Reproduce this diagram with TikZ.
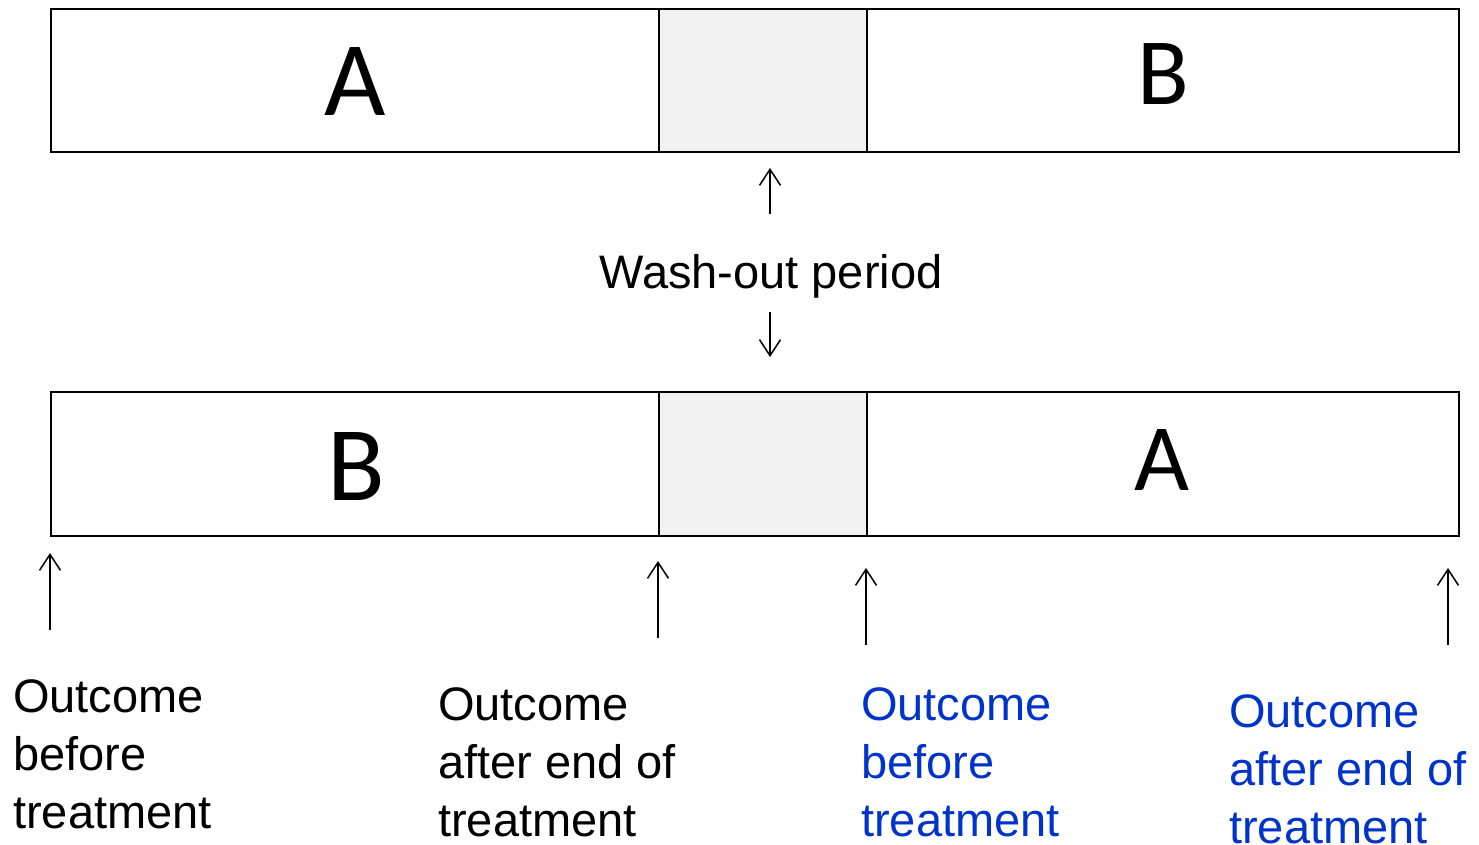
\documentclass[tikz,border=0pt]{standalone}
\usepackage{fontspec}
\setmainfont{Liberation Sans}
\newfontfamily\calib{Carlito}
\usetikzlibrary{arrows.meta}
\definecolor{outblue}{RGB}{0,51,204}
\definecolor{washgray}{RGB}{242,242,242}
\begin{document}
\begin{tikzpicture}[x=1pt,y=-1pt,
  bar/.style={draw=black,line width=1.6pt},
  wash/.style={draw=black,line width=1.6pt,fill=washgray},
  letter/.style={font=\calib\fontsize{#1}{#1}\selectfont,anchor=base,inner sep=0pt},
  ptr/.style={line width=1.5pt,-{Straight Barb[length=16pt,width=21pt,line width=1.5pt]}},
  lab/.style={font=\fontsize{47}{58}\selectfont,align=left,anchor=base west,inner sep=0pt},
  blab/.style={lab,text=outblue}]
\useasboundingbox (0,0) rectangle (1479,844);
% top bar
\node[bar,minimum width=1408pt,minimum height=143pt,inner sep=0pt,anchor=north west] (top) at (50,8) {};
\node[wash,minimum width=208pt,minimum height=143pt,inner sep=0pt,anchor=north west] (topw) at (658,8) {};
% bottom bar
\node[bar,minimum width=1408pt,minimum height=144pt,inner sep=0pt,anchor=north west] (bot) at (50,391) {};
\node[wash,minimum width=208pt,minimum height=144pt,inner sep=0pt,anchor=north west] (botw) at (658,391) {};
% letters
\node[letter=106] (tA) at (355,115) {A};
\node[letter=95] (tB) at (1163,104) {B};
\node[letter=106] (bB) at (356,500) {B};
\node[letter=95] (bA) at (1162,490) {A};
% wash-out
\node[font=\fontsize{47}{58}\selectfont,anchor=base,inner sep=0pt] (wo) at (771,288) {Wash-out period};
\coordinate (wu0) at (770,214);
\coordinate (wu1) at (770,168);
\coordinate (wd0) at (770,312);
\coordinate (wd1) at (770,357);
\draw[ptr] (wu0) -- (wu1);
\draw[ptr] (wd0) -- (wd1);
% bottom arrows
\coordinate (a1s) at (50,630);  \coordinate (a1e) at (50,553);
\coordinate (a2s) at (658,638); \coordinate (a2e) at (658,561);
\coordinate (a3s) at (866,645); \coordinate (a3e) at (866,568);
\coordinate (a4s) at (1448,645); \coordinate (a4e) at (1448,568);
\draw[ptr] (a1s) -- (a1e);
\draw[ptr] (a2s) -- (a2e);
\draw[ptr] (a3s) -- (a3e);
\draw[ptr] (a4s) -- (a4e);
% labels (base anchor = baseline of last line)
\node[lab] (l1) at (13,828) {Outcome\\before\\treatment};
\node[lab] (l2) at (438,836) {Outcome\\after end of\\treatment};
\node[blab] (l3) at (861,836) {Outcome\\before\\treatment};
\node[blab] (l4) at (1229,843) {Outcome\\after end of\\treatment};
\end{tikzpicture}
\end{document}
